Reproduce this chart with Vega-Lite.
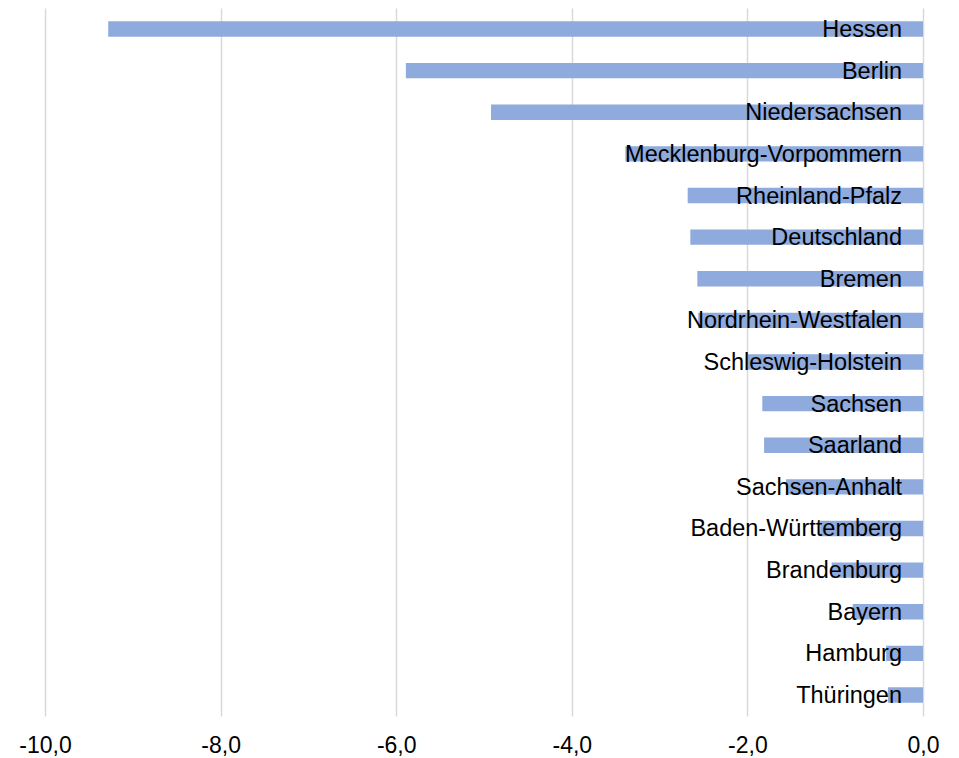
{
  "$schema": "https://vega.github.io/schema/vega-lite/v6.json",
  "width": 878,
  "height": 708,
  "autosize": "none",
  "padding": {"left": 45, "top": 8, "right": 36, "bottom": 42},
  "background": "white",
  "config": {"view": {"stroke": null}, "font": "Liberation Sans"},
  "data": {"values": [
    {"land": "Hessen", "wert": -9.28},
    {"land": "Berlin", "wert": -5.89},
    {"land": "Niedersachsen", "wert": -4.92},
    {"land": "Mecklenburg-Vorpommern", "wert": -3.39},
    {"land": "Rheinland-Pfalz", "wert": -2.68},
    {"land": "Deutschland", "wert": -2.65},
    {"land": "Bremen", "wert": -2.57},
    {"land": "Nordrhein-Westfalen", "wert": -2.56},
    {"land": "Schleswig-Holstein", "wert": -2.0},
    {"land": "Sachsen", "wert": -1.83},
    {"land": "Saarland", "wert": -1.81},
    {"land": "Sachsen-Anhalt", "wert": -1.56},
    {"land": "Baden-Württemberg", "wert": -1.17},
    {"land": "Brandenburg", "wert": -1.04},
    {"land": "Bayern", "wert": -0.8},
    {"land": "Hamburg", "wert": -0.42},
    {"land": "Thüringen", "wert": -0.4}
  ]},
  "encoding": {
    "y": {"field": "land", "type": "nominal", "sort": null,
          "scale": {"paddingInner": 0.63, "paddingOuter": 0.32},
          "axis": null}
  },
  "layer": [
    {
      "mark": {"type": "bar", "color": "#8FAADC"},
      "encoding": {
        "x": {"field": "wert", "type": "quantitative",
              "scale": {"domain": [-10, 0], "nice": false},
              "axis": {"values": [-10, -8, -6, -4, -2, 0], "domain": false, "ticks": false,
                       "grid": true, "gridColor": "#D9D9D9", "gridWidth": 1.5,
                       "labelFontSize": 23, "labelColor": "#000000", "labelPadding": 18,
                       "labelFlush": false, "labelOverlap": false, "labelBound": false,
                       "labelFont": "Liberation Sans", "title": null,
                       "labelExpr": "(datum.value < 0 ? '-' : '') + replace(format(abs(datum.value), '.1f'), '.', ',')"}}
      }
    },
    {
      "mark": {"type": "text", "align": "right", "baseline": "middle", "dx": -21, "dy": 1, "fontSize": 23.5, "color": "#000000", "font": "Liberation Sans"},
      "encoding": {
        "x": {"datum": 0},
        "text": {"field": "land"}
      }
    }
  ]
}
